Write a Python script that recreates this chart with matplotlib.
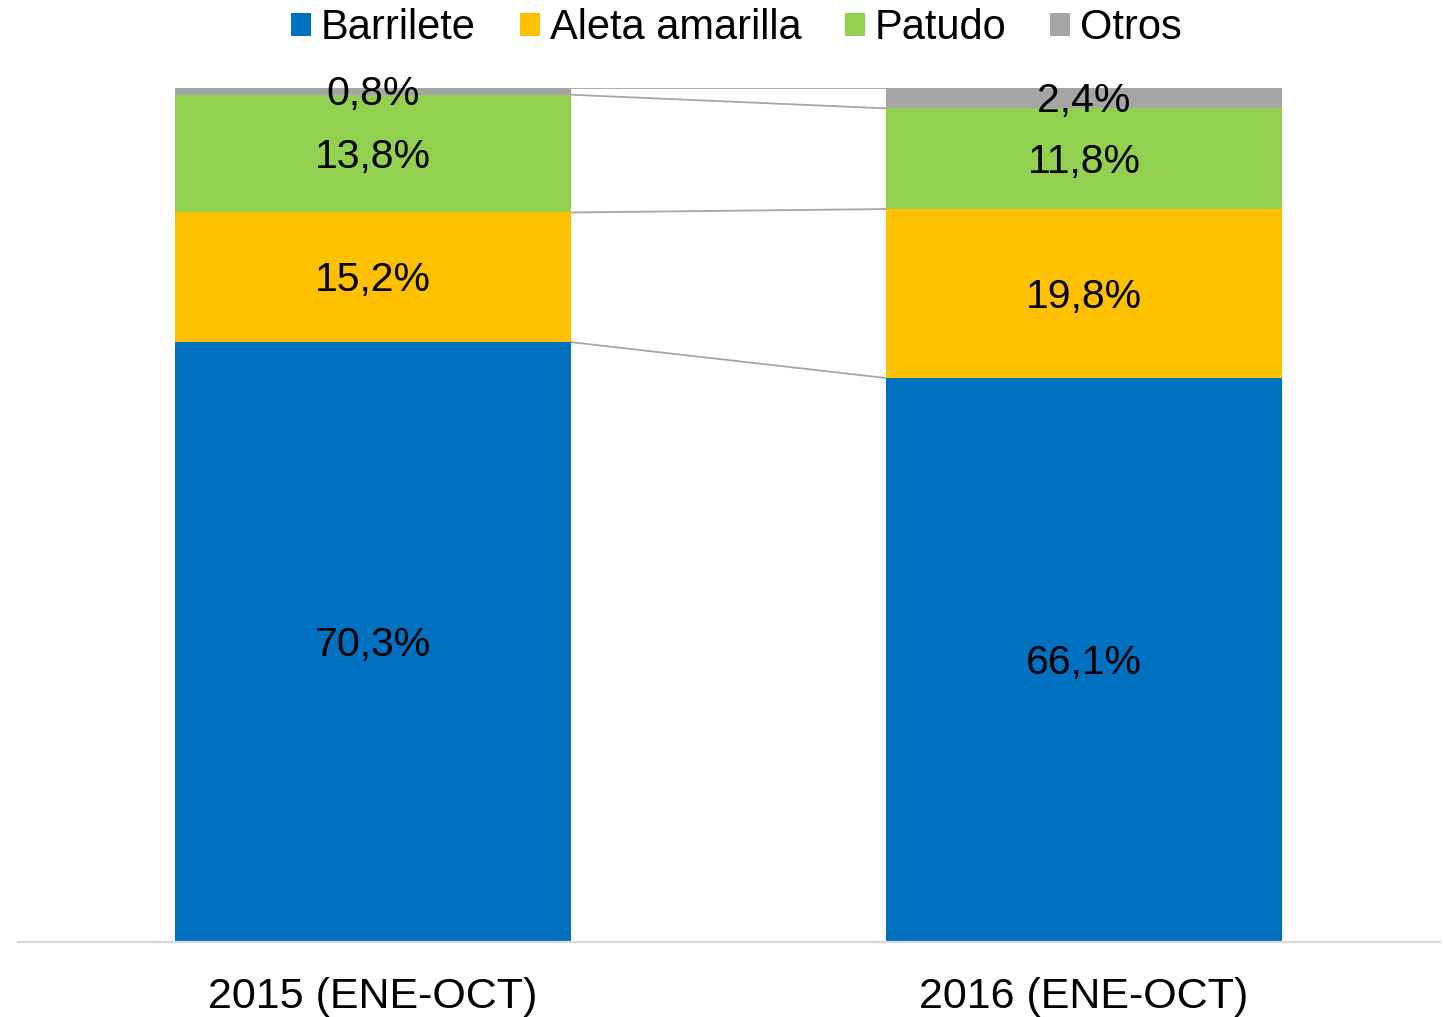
import numpy as np
import matplotlib.pyplot as plt

plt.rcParams['font.family'] = ['Liberation Sans', 'DejaVu Sans']

periods = ['2015 (ENE-OCT)', '2016 (ENE-OCT)']
species = ['Barrilete', 'Aleta amarilla', 'Patudo', 'Otros']
barrilete = [70.3, 66.1]
aleta = [15.2, 19.8]
patudo = [13.8, 11.8]
otros = [0.8, 2.4]
colors = ['#0070C0', '#FFC000', '#92D050', '#A5A5A5']

series = [barrilete, aleta, patudo, otros]

fig = plt.figure(figsize=(14.43, 10.17), dpi=100)
ax = fig.add_axes([0.01213, 0.07375, 0.98545, 0.83982])

x = np.arange(len(periods))
width = 0.557
bottom = np.zeros(len(periods))
tops = []
for vals, name, col in zip(series, species, colors):
    vals = np.array(vals)
    ax.bar(x, vals, width, bottom=bottom, color=col, label=name, zorder=2)
    for xi, b, v in zip(x, bottom, vals):
        ax.annotate(f'{v:.1f}'.replace('.', ',') + '%', (xi, b + v / 2),
                    xytext=(0, -3), textcoords='offset pixels',
                    ha='center', va='center', fontsize=29.5, color='black', zorder=4)
    bottom = bottom + vals
    tops.append(bottom.copy())

# series lines between the bars
for t in tops:
    ax.plot([x[0] + width / 2, x[1] - width / 2], [t[0], t[1]],
            color='#A6A6A6', lw=1.3, zorder=1)

ax.set_xlim(-0.5, 1.5)
ax.set_ylim(0, 100.1)
ax.set_xticks(x)
ax.set_xticklabels(periods, fontsize=31)
ax.tick_params(axis='x', length=0, pad=25)
ax.set_yticks([])
for s in ['top', 'right', 'left']:
    ax.spines[s].set_visible(False)
ax.spines['bottom'].set_color('#D9D9D9')
ax.spines['bottom'].set_linewidth(1.6)
ax.patch.set_alpha(0)

fig.legend(loc='center', bbox_to_anchor=(0.5104, 0.972), ncol=4, frameon=False,
           fontsize=30, handlelength=0.48, handleheight=0.48, handletextpad=0.24,
           columnspacing=1.05, borderpad=0, borderaxespad=0)

fig.savefig('out.png', dpi=100)
